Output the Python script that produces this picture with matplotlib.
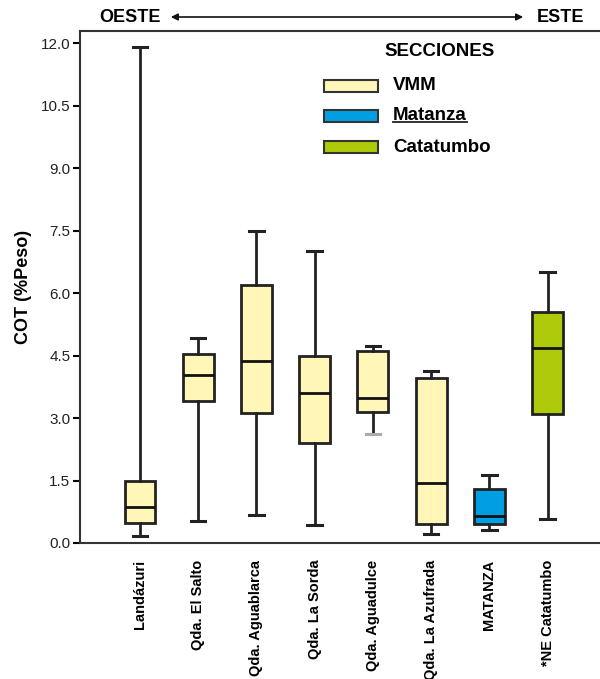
import matplotlib
matplotlib.use("Agg")
import matplotlib.pyplot as plt
from matplotlib.patches import Rectangle
from matplotlib.lines import Line2D

plt.rcParams['font.family'] = ['Liberation Sans', 'DejaVu Sans']

# data (COT %Peso)
sitios = ['Landázuri', 'Qda. El Salto', 'Qda. Aguablarca', 'Qda. La Sorda',
          'Qda. Aguadulce', 'Qda. La Azufrada', 'MATANZA', '*NE Catatumbo']
whis_lo = [0.17, 0.53, 0.67, 0.43, 2.61, 0.22, 0.30, 0.57]
q1 = [0.49, 3.42, 3.13, 2.39, 3.14, 0.45, 0.46, 3.10]
med = [0.86, 4.03, 4.37, 3.59, 3.47, 1.44, 0.66, 4.69]
q3 = [1.50, 4.54, 6.19, 4.49, 4.61, 3.97, 1.29, 5.55]
whis_hi = [11.9, 4.93, 7.50, 7.02, 4.74, 4.14, 1.63, 6.50]
seccion = ['VMM', 'VMM', 'VMM', 'VMM', 'VMM', 'VMM', 'Matanza', 'Catatumbo']

secciones = ['VMM', 'Matanza', 'Catatumbo']
colores = {'VMM': '#FFF6B8', 'Matanza': '#009FE3', 'Catatumbo': '#AFCA0B'}

fig = plt.figure(figsize=(6, 6.79), dpi=100)
ax = fig.add_axes([0.1333, 0.2003, 0.8667, 0.754])

stats = []
for i in range(len(sitios)):
    stats.append({'label': sitios[i], 'whislo': whis_lo[i], 'q1': q1[i], 'med': med[i],
                  'q3': q3[i], 'whishi': whis_hi[i], 'fliers': []})

pos = list(range(1, len(sitios) + 1))
bp = ax.bxp(stats, positions=pos, widths=0.53, patch_artist=True, showfliers=False,
            boxprops=dict(linewidth=2, edgecolor='#222222'),
            medianprops=dict(color='#111111', linewidth=2),
            whiskerprops=dict(color='#222222', linewidth=2),
            capprops=dict(color='#222222', linewidth=2.2),
            capwidths=0.25)
for box, s in zip(bp['boxes'], seccion):
    box.set_facecolor(colores[s])
# lower cap of Aguadulce appears grey in the reference
bp['caps'][2 * 4].set_color('#aaaaaa')

ax.set_xlim(-0.03, 8.9)
ax.set_ylim(0, 12.29)
ax.set_yticks([0, 1.5, 3.0, 4.5, 6.0, 7.5, 9.0, 10.5, 12.0])
ax.set_yticklabels(['%.1f' % v for v in ax.get_yticks()], fontsize=11, color='#222222')
ax.set_xticks(pos)
ax.set_xticklabels(sitios, rotation=90, fontsize=10.5, fontweight='bold', va='top')
ax.tick_params(axis='x', length=0, pad=12)
ax.tick_params(axis='y', length=5, width=1.5, direction='out', pad=2)
ax.spines['right'].set_visible(False)
for sp in ['left', 'top', 'bottom']:
    ax.spines[sp].set_linewidth(1.5)
    ax.spines[sp].set_color('#333333')

ax.set_ylabel('COT (%Peso)', fontsize=13, fontweight='bold', labelpad=6)

# legend drawn by hand to match the reference
fig.text(440 / 600, 1 - 52 / 679, 'SECCIONES', fontsize=13.5, fontweight='bold',
         ha='center', va='center')
for k, s in enumerate(secciones):
    yc = [86, 116, 147][k]
    fig.patches.append(Rectangle((324 / 600, 1 - (yc + 6) / 679), 54 / 600, 12 / 679,
                                 transform=fig.transFigure, facecolor=colores[s],
                                 edgecolor='#333333', linewidth=1.5))
    t = fig.text(393 / 600, 1 - yc / 679, s, fontsize=13.5, fontweight='bold',
                 ha='left', va='center')
    if s == 'Matanza':
        fig.canvas.draw()
        bb = t.get_window_extent().transformed(fig.transFigure.inverted())
        fig.lines.append(Line2D([bb.x0, bb.x1], [bb.y0 + 0.003, bb.y0 + 0.003],
                                transform=fig.transFigure, color='#222222', lw=1.3))

# header OESTE <-> ESTE
fig.text(130 / 600, 1 - 17 / 679, 'OESTE', fontsize=13, fontweight='bold',
         ha='center', va='center')
fig.text(560 / 600, 1 - 17 / 679, 'ESTE', fontsize=13, fontweight='bold',
         ha='center', va='center')
ax.annotate('', xy=(526 / 600, 1 - 17 / 679), xytext=(168 / 600, 1 - 17 / 679),
            xycoords='figure fraction', textcoords='figure fraction',
            arrowprops=dict(arrowstyle='<|-|>', color='#111111', lw=1.2,
                            mutation_scale=10))

fig.savefig('out.png', dpi=100)
